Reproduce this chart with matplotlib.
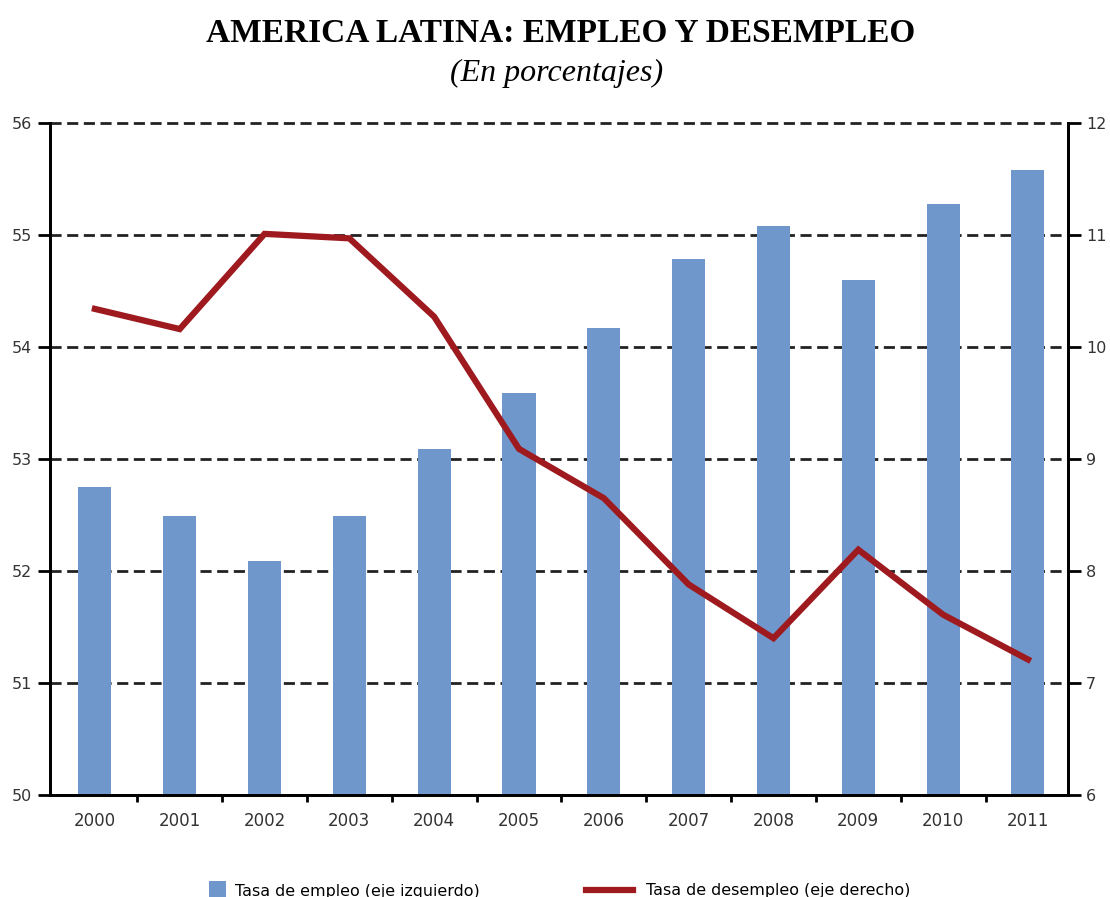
import matplotlib
matplotlib.use("Agg")
import matplotlib.pyplot as plt
from matplotlib.ticker import FixedLocator

years = ["2000", "2001", "2002", "2003", "2004", "2005",
         "2006", "2007", "2008", "2009", "2010", "2011"]
# tasa de empleo (eje izquierdo)
empleo = [52.75, 52.49, 52.09, 52.49, 53.09, 53.59,
          54.17, 54.79, 55.08, 54.60, 55.28, 55.58]
# tasa de desempleo (eje derecho)
desempleo = [10.34, 10.16, 11.01, 10.97, 10.27, 9.09,
             8.65, 7.88, 7.40, 8.19, 7.61, 7.21]

bar_color = "#7097CB"
line_color = "#9E1A1E"
tick_color = "#333333"

fig = plt.figure(figsize=(11.10, 8.97), dpi=100)
ax = fig.add_axes([0.045, 0.1137, 0.917, 0.7492])
ax2 = ax.twinx()

x = list(range(len(years)))

# grid first so bars sit on top of it
ax.set_ylim(50, 56)
ax.set_yticks([50, 51, 52, 53, 54, 55, 56])
for v in [51, 52, 53, 54, 55, 56]:
    ax.axhline(v, color="#222222", lw=2, ls=(0, (4, 2)), zorder=0, clip_on=False)

bars = ax.bar(x, empleo, width=0.39, color=bar_color, zorder=2,
              label="Tasa de empleo (eje izquierdo)")
ax.set_xlim(-0.53, len(years) - 0.53)

ax2.set_ylim(6, 12)
ax2.set_yticks([6, 7, 8, 9, 10, 11, 12])
line, = ax2.plot(x, desempleo, color=line_color, lw=4.5, solid_joinstyle="miter",
                 label="Tasa de desempleo (eje derecho)")

ax.set_xticks(x)
ax.set_xticklabels(years)
ax.xaxis.set_minor_locator(FixedLocator([i + 0.5 for i in range(len(years) - 1)]))
ax.tick_params(axis="x", which="major", length=0, pad=12, labelsize=12, labelcolor=tick_color)
ax.tick_params(axis="x", which="minor", length=5, width=2, direction="out", color="black")
ax.tick_params(axis="y", length=9, width=2, direction="out", pad=4, labelsize=11.5,
               labelcolor=tick_color)
ax2.tick_params(axis="y", length=9, width=2, direction="out", pad=4, labelsize=11.5,
                labelcolor=tick_color)

for a in (ax, ax2):
    a.spines["top"].set_visible(False)
    for s in ("left", "right", "bottom"):
        a.spines[s].set_linewidth(2)
        a.spines[s].set_color("black")

fig.text(0.505, 0.963, "AMERICA LATINA: EMPLEO Y DESEMPLEO", ha="center", va="center",
         family="Liberation Serif", fontweight="bold", fontsize=24)
fig.text(0.501, 0.918, "(En porcentajes)", ha="center", va="center",
         family="Liberation Serif", style="italic", fontsize=23)

leg1 = fig.legend(handles=[bars], loc="center left", bbox_to_anchor=(0.175, 0.007),
                  frameon=False, fontsize=11.4, handlelength=1.1, handleheight=1.5,
                  handletextpad=0.6)
leg2 = fig.legend(handles=[line], loc="center left", bbox_to_anchor=(0.515, 0.007),
                  frameon=False, fontsize=11.4, handlelength=3, handletextpad=0.8)

fig.savefig("out.png", dpi=100)
